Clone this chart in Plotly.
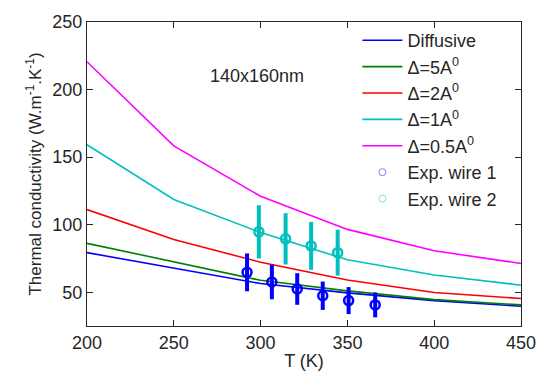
import plotly.graph_objects as go

T_model = [200, 250, 300, 350, 400, 450]
k_diffusive = [79.3, 67.7, 56.4, 49.5, 43.8, 39.6]
k_d5 = [86.2, 72.5, 58.8, 51.0, 44.5, 40.6]
k_d2 = [111.2, 89.0, 72.2, 59.0, 49.8, 45.3]
k_d1 = [159.2, 118.6, 94.2, 74.0, 62.8, 55.2]
k_d05 = [220.6, 158.3, 121.0, 96.5, 80.7, 71.3]

T_wire1 = [292.2, 306.5, 321.1, 335.8, 350.7, 366.0]
k_wire1 = [64.7, 57.6, 52.4, 47.4, 43.8, 40.6]
err_wire1 = [14.0, 12.8, 11.7, 10.5, 10.0, 9.2]

T_wire2 = [299.0, 314.4, 329.1, 344.4]
k_wire2 = [94.7, 89.5, 84.3, 79.3]
err_wire2 = [19.7, 19.0, 17.7, 17.0]

names = ["Diffusive", "Δ=5A<sup>0</sup>", "Δ=2A<sup>0</sup>", "Δ=1A<sup>0</sup>", "Δ=0.5A<sup>0</sup>"]
series = [k_diffusive, k_d5, k_d2, k_d1, k_d05]
colors = ["#0000ff", "#008000", "#ff0000", "#00bfbf", "#ff00ff"]

fig = go.Figure()
for nm, ys, c in zip(names, series, colors):
    fig.add_trace(go.Scatter(x=T_model, y=ys, mode="lines", name=nm,
                             line=dict(color=c, width=1.6)))

fig.add_trace(go.Scatter(x=T_wire1, y=k_wire1, mode="markers", name="Exp. wire 1",
                         showlegend=False,
                         marker=dict(symbol="circle-open", size=9, color="#0000ff",
                                     line=dict(width=2.5, color="#0000ff")),
                         error_y=dict(type="data", array=err_wire1, color="#0000ff",
                                      thickness=4, width=0)))
fig.add_trace(go.Scatter(x=T_wire2, y=k_wire2, mode="markers", name="Exp. wire 2",
                         showlegend=False,
                         marker=dict(symbol="circle-open", size=9, color="#00bfbf",
                                     line=dict(width=2.5, color="#00bfbf")),
                         error_y=dict(type="data", array=err_wire2, color="#00bfbf",
                                      thickness=4, width=0)))
# legend entries for experimental data
fig.add_trace(go.Scatter(x=[None], y=[None], mode="markers", name="Exp. wire 1",
                         marker=dict(symbol="circle-open", size=7, color="#8080ff",
                                     line=dict(width=1, color="#8080ff"))))
fig.add_trace(go.Scatter(x=[None], y=[None], mode="markers", name="Exp. wire 2",
                         marker=dict(symbol="circle-open", size=7, color="#80dfdf",
                                     line=dict(width=1, color="#80dfdf"))))

fig.add_annotation(x=298, y=210, text="140x160nm", showarrow=False,
                   font=dict(size=18, color="#262626"))

axis_common = dict(showgrid=False, zeroline=False, showline=True, linecolor="#262626",
                   linewidth=1, mirror="ticks", ticks="inside", ticklen=6,
                   tickcolor="#262626", tickfont=dict(size=18, color="#262626"))
fig.update_xaxes(range=[200, 450], tickvals=[200, 250, 300, 350, 400, 450],
                 title=dict(text="T (K)", font=dict(size=18, color="#262626"), standoff=2),
                 **axis_common)
fig.update_yaxes(range=[25, 250], tickvals=[50, 100, 150, 200, 250],
                 title=dict(text="Thermal conductivity (W.m<sup>-1</sup>.K<sup>-1</sup>)",
                            font=dict(size=17, color="#262626"), standoff=6),
                 **axis_common)

fig.update_layout(
    width=548, height=379,
    margin=dict(l=87, r=26, t=12, b=50),
    paper_bgcolor="white", plot_bgcolor="white",
    font=dict(family="Liberation Sans, Arial, sans-serif", color="#262626"),
    legend=dict(x=0.623, y=1, xanchor="left", yanchor="top", bgcolor="rgba(255,255,255,0)",
                font=dict(size=18, color="#262626"), tracegroupgap=0, itemwidth=40,
                traceorder="normal"),
)
fig.write_html("out.html")
